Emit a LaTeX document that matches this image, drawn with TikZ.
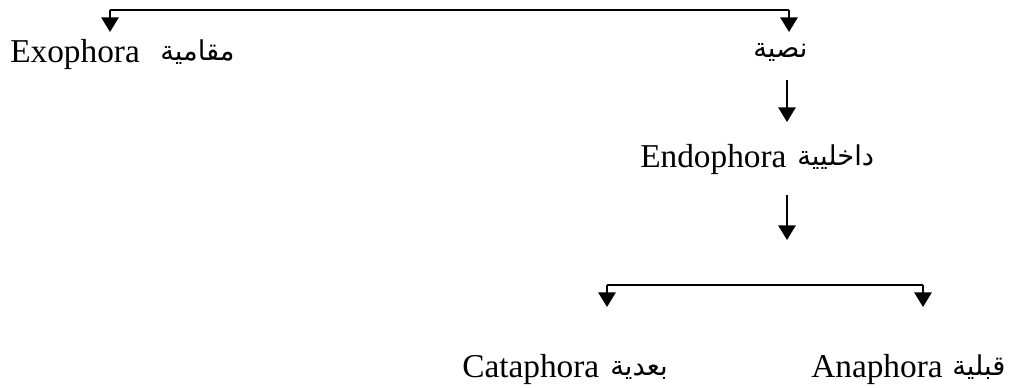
\documentclass[tikz,border=0pt]{standalone}
\usepackage{fontspec}
\setmainfont{Liberation Serif}
\newfontfamily\arabicfont[Script=Arabic]{DejaVu Sans}
\TeXXeTstate=1
\usetikzlibrary{arrows.meta}
\begin{document}
\begin{tikzpicture}[x=0.75pt,y=-0.75pt,
  lbl/.style={anchor=base west, inner sep=0pt, font=\fontsize{25}{30}\selectfont},
  arlbl/.style={anchor=base west, inner sep=0pt, font=\arabicfont\fontsize{20.5}{24}\selectfont},
  conn/.style={line width=1.5pt, -{Triangle[width=13pt,length=11pt]}},
  plain/.style={line width=1.5pt}]
\useasboundingbox (0,0) rectangle (1013,387);

% labels
\node[lbl] (exo) at (10,62) {Exophora};
\node[arlbl] (exoar) at (160,60) {\beginR مقامية\endR};
\node[arlbl] (nas) at (753,57) {\beginR نصية\endR};
\node[lbl] (endo) at (640,167) {Endophora};
\node[arlbl] (endoar) at (797,165) {\beginR داخليية\endR};
\node[lbl] (cata) at (462,377) {Cataphora};
\node[arlbl] (catar) at (610,375) {\beginR بعدية\endR};
\node[lbl] (ana) at (811,377) {Anaphora};
\node[arlbl] (anar) at (952,375) {\beginR قبلية\endR};

% connector points
\coordinate (topR) at (789,10);
\coordinate (topL) at (110,10);
\coordinate (exoTip) at (110,32);
\coordinate (nasTip) at (789,32);
\coordinate (nasOut) at (787,80);
\coordinate (endoTip) at (787,122);
\coordinate (endoOut) at (787,195);
\coordinate (splitTip) at (787,240);
\coordinate (botL) at (607,285);
\coordinate (botR) at (923,285);
\coordinate (cataTip) at (607,307);
\coordinate (anaTip) at (923,307);

\draw[plain] (topL) -- (topR);
\draw[conn] (topL) -- (exoTip);
\draw[conn] (topR) -- (nasTip);
\draw[conn] (nasOut) -- (endoTip);
\draw[conn] (endoOut) -- (splitTip);
\draw[plain] (botL) -- (botR);
\draw[conn] (botL) -- (cataTip);
\draw[conn] (botR) -- (anaTip);
\end{tikzpicture}
\end{document}
